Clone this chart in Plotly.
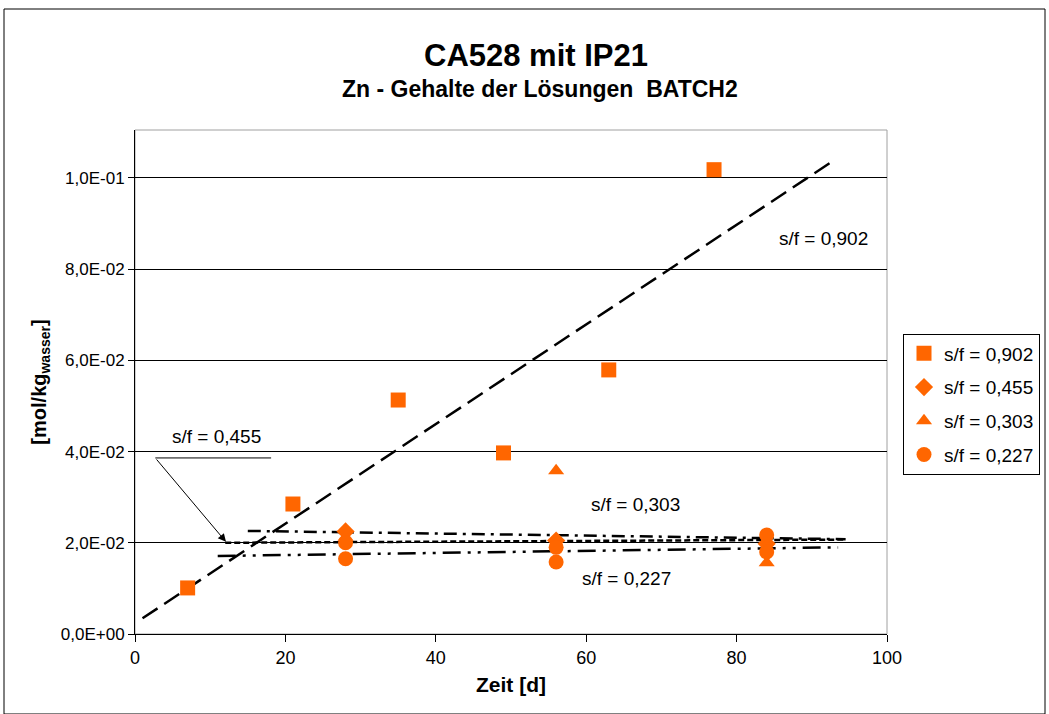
import numpy as np
import plotly.graph_objects as go

ORANGE = "#FF6600"
FONT = "Liberation Sans, Arial, sans-serif"

# ---- data ----
x_902 = [7, 21, 35, 49, 63, 77]
y_902 = [0.0101, 0.0285, 0.0513, 0.0397, 0.0579, 0.1018]

x_455 = [28, 56, 84]
y_455 = [0.0225, 0.0205, 0.0198]

x_303 = [28, 56, 84]
y_303 = [0.0212, 0.0358, 0.0156]

x_227 = [28, 28, 56, 56, 84, 84]
y_227 = [0.0200, 0.0165, 0.0190, 0.0158, 0.0217, 0.0180]

# trendline coefficients (intercept, slope) and ranges
trend_455 = (0.01990, 0.0000085)
trend_303 = (0.02294, -0.0000228)
trend_227 = (0.01685, 0.0000229)
range_902 = [1, 92.5]
range_455 = [12, 94.5]
range_303 = [15, 94.5]
range_227 = [11, 93.5]

y_tickvals = [0, 0.02, 0.04, 0.06, 0.08, 0.10]
y_ticktext = ["0,0E+00", "2,0E-02", "4,0E-02", "6,0E-02", "8,0E-02", "1,0E-01"]
x_tickvals = [0, 20, 40, 60, 80, 100]

fig = go.Figure()

def trend_line(xr, coef, dash):
    xs = np.array(xr, dtype=float)
    ys = coef[0] + coef[1] * xs
    fig.add_trace(go.Scatter(x=xs, y=ys, mode="lines", showlegend=False,
                             hoverinfo="skip",
                             line=dict(color="black", width=2.5, dash=dash)))

# 0.902 linear fit
slope, intercept = np.polyfit(x_902, y_902, 1)
trend_line(range_902, (intercept, slope), "18px,8px")
trend_line(range_455, trend_455, "6px,3px")
trend_line(range_303, trend_303, "13px,6px,3px,6px")
trend_line(range_227, trend_227, "18px,7px,3px,7px,3px,7px")

series = [
    ("s/f = 0,902", x_902, y_902, "square", 15),
    ("s/f = 0,455", x_455, y_455, "diamond", 14),
    ("s/f = 0,303", x_303, y_303, "triangle-up", 14),
    ("s/f = 0,227", x_227, y_227, "circle", 15),
]
for i, (name, xs, ys, sym, size) in enumerate(series):
    fig.add_trace(go.Scatter(x=xs, y=ys, mode="markers", name=name,
                             legendgroup=f"g{i}",
                             marker=dict(symbol=sym, size=size, color=ORANGE,
                                         line=dict(width=0))))

lab_font = dict(family=FONT, size=19, color="black")
annotations = [
    dict(x=91.5, y=0.0868, text="s/f = 0,902", showarrow=False, font=lab_font),
    dict(x=66.6, y=0.0283, text="s/f = 0,303", showarrow=False, font=lab_font),
    dict(x=65.4, y=0.0121, text="s/f = 0,227", showarrow=False, font=lab_font),
    dict(x=10.8, y=0.0432, text="s/f = 0,455", showarrow=False, font=lab_font),
    dict(x=12.1, y=0.0202, ax=2.7, ay=0.0386, axref="x", ayref="y",
         xref="x", yref="y", text="", showarrow=True, arrowhead=2,
         arrowsize=1.6, arrowwidth=1, arrowcolor="black"),
    dict(x=(536 - 135) / 752, y=(634 - 55) / 504, xref="paper", yref="paper",
         xanchor="center", yanchor="middle",
         text="<b>CA528 mit IP21</b>", showarrow=False,
         font=dict(family=FONT, size=31, color="black")),
    dict(x=(540 - 135) / 752, y=(634 - 89) / 504, xref="paper", yref="paper",
         xanchor="center", yanchor="middle",
         text="<b>Zn - Gehalte der Lösungen&nbsp;&nbsp;BATCH2</b>", showarrow=False,
         font=dict(family=FONT, size=23, color="black")),
]

shapes = [
    dict(type="line", xref="x", yref="y", x0=2.7, x1=18.1, y0=0.0386, y1=0.0386,
         line=dict(color="black", width=1)),
    dict(type="rect", xref="x domain", yref="y domain", x0=0, x1=1, y0=0, y1=1,
         layer="below", line=dict(color="#A0A0A0", width=1)),
    dict(type="rect", xref="paper", yref="paper",
         x0=-131 / 752, x1=(1045 - 135) / 752, y0=-80 / 504, y1=(634 - 9) / 504,
         line=dict(color="black", width=1)),
]

fig.update_layout(
    width=1049, height=714,
    margin=dict(l=135, r=162, t=130, b=80, autoexpand=False),
    paper_bgcolor="white", plot_bgcolor="white",
    font=dict(family=FONT, size=17, color="black"),
    annotations=annotations,
    shapes=shapes,
    showlegend=True,
    legend=dict(xref="container", yref="container",
                x=903 / 1049, xanchor="left", y=1 - 404 / 714,
                yanchor="middle", bordercolor="black", borderwidth=1,
                bgcolor="white", font=dict(family=FONT, size=19),
                tracegroupgap=6, itemwidth=30),
    xaxis=dict(range=[0, 100], tickvals=x_tickvals, showgrid=False,
               zeroline=False, showline=True, linecolor="black", linewidth=1,
               ticks="outside", ticklen=7, tickcolor="black",
               tickfont=dict(size=18),
               title=dict(text="<b>Zeit [d]</b>", font=dict(size=21), standoff=10)),
    yaxis=dict(range=[0, 0.1105], tickvals=y_tickvals, ticktext=y_ticktext,
               showgrid=True, gridcolor="black", gridwidth=1, zeroline=False,
               showline=True, linecolor="black", linewidth=1,
               ticks="outside", ticklen=6, tickcolor="black",
               tickfont=dict(size=17),
               title=dict(text="<b>[mol/kg<sub>wasser</sub>]</b>",
                          font=dict(size=20), standoff=8)),
)

fig.write_html("out.html")
